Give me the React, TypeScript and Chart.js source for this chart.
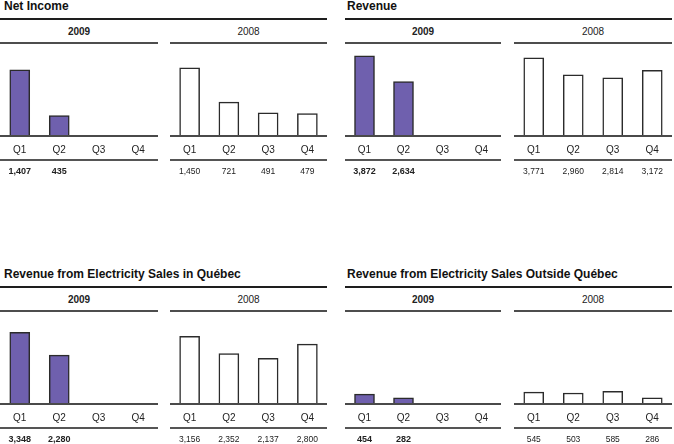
import React, { useEffect, useRef } from 'react';
import { Chart, registerables } from 'chart.js';

Chart.register(...registerables);

const quarters = ['Q1', 'Q2', 'Q3', 'Q4'];

const netIncome2009 = [1407, 435, null, null];
const netIncome2008 = [1450, 721, 491, 479];
const revenue2009 = [3872, 2634, null, null];
const revenue2008 = [3771, 2960, 2814, 3172];
const quebec2009 = [3348, 2280, null, null];
const quebec2008 = [3156, 2352, 2137, 2800];
const outside2009 = [454, 282, null, null];
const outside2008 = [545, 503, 585, 286];

const titles = [
  'Net Income',
  'Revenue',
  'Revenue from Electricity Sales in Québec',
  'Revenue from Electricity Sales Outside Québec',
];
const yearLabels = ['2009', '2008'];

const FONT = '"Liberation Sans", Arial, Helvetica, sans-serif';
const CANVAS_H = 134;

type SubProps = {
  left: number;
  top: number;
  width: number;
  values: (number | null)[];
  filled: boolean;
  ymax: number;
};

function SubChart({ left, top, width, values, filled, ymax }: SubProps) {
  const ref = useRef<HTMLCanvasElement | null>(null);
  useEffect(() => {
    const valueLabels = values.map((v) => (v == null ? '' : v.toLocaleString('en-US')));
    const chart = new Chart(ref.current as HTMLCanvasElement, {
      type: 'bar',
      data: {
        labels: quarters,
        datasets: [
          {
            data: values as any,
            backgroundColor: filled ? '#6f60ae' : '#ffffff',
            borderColor: '#2b2b2b',
            borderWidth: 1.5,
            borderSkipped: 'bottom',
            barThickness: 20,
          },
        ],
      },
      options: {
        animation: false,
        responsive: false,
        devicePixelRatio: 1,
        events: [],
        layout: { padding: 0 },
        plugins: { legend: { display: false }, tooltip: { enabled: false } },
        scales: {
          y: { display: false, min: 0, max: ymax },
          x: {
            position: 'bottom',
            weight: 0,
            grid: { display: false, drawTicks: false },
            border: { display: true, color: '#4a4a4a', width: 2, z: 1 },
            ticks: {
              font: { family: FONT, size: 10 },
              color: '#222',
              padding: 8,
              maxRotation: 0,
              autoSkip: false,
            },
            afterFit: (s: any) => {
              s.height = 24;
            },
          },
          x2: {
            type: 'category',
            labels: valueLabels,
            offset: true,
            position: 'bottom',
            weight: 1,
            grid: { display: false, drawTicks: false },
            border: { display: true, color: '#555', width: 2 },
            ticks: {
              font: { family: FONT, size: filled ? 9 : 8.5, weight: filled ? 'bold' : 'normal' },
              color: '#222',
              padding: 6.5,
              maxRotation: 0,
              autoSkip: false,
            },
            afterFit: (s: any) => {
              s.height = CANVAS_H - 94 - 24;
            },
          },
        } as any,
      },
    });
    return () => chart.destroy();
  }, []);
  return (
    <canvas
      ref={ref}
      width={width}
      height={CANVAS_H}
      style={{ position: 'absolute', left, top, width, height: CANVAS_H }}
    />
  );
}

type PanelProps = {
  title: string;
  rowTop: number;
  titleX: number;
  seg09: [number, number];
  seg08: [number, number];
  data09: (number | null)[];
  data08: (number | null)[];
  ymax: number;
};

function Panel({ title, rowTop, titleX, seg09, seg08, data09, data08, ymax }: PanelProps) {
  const lineLeft = seg09[0];
  const lineRight = seg08[1];
  const abs = (o: any) => ({ position: 'absolute' as const, ...o });
  return (
    <>
      <div
        style={abs({
          left: titleX,
          top: rowTop - 1,
          fontFamily: FONT,
          fontWeight: 'bold',
          fontSize: 12,
          lineHeight: '14px',
          color: '#111',
          whiteSpace: 'nowrap',
        })}
      >
        {title}
      </div>
      <div style={abs({ left: lineLeft, top: rowTop + 18, width: lineRight - lineLeft, height: 2, background: '#1e1e1e' })} />
      {[seg09, seg08].map((seg, i) => (
        <React.Fragment key={i}>
          <div
            style={abs({
              left: seg[0],
              top: rowTop + 26,
              width: seg[1] - seg[0],
              textAlign: 'center',
              fontFamily: FONT,
              fontSize: 10,
              lineHeight: '12px',
              fontWeight: i === 0 ? 'bold' : 'normal',
              color: '#222',
            })}
          >
            {yearLabels[i]}
          </div>
          <div style={abs({ left: seg[0], top: rowTop + 42, width: seg[1] - seg[0], height: 2, background: '#4d4d4d' })} />
        </React.Fragment>
      ))}
      <SubChart left={seg09[0]} top={rowTop + 42} width={seg09[1] - seg09[0]} values={data09} filled={true} ymax={ymax} />
      <SubChart left={seg08[0]} top={rowTop + 42} width={seg08[1] - seg08[0]} values={data08} filled={false} ymax={ymax} />
    </>
  );
}

export default function App() {
  return (
    <div
      style={{
        position: 'absolute',
        left: 0,
        top: 0,
        width: 674,
        height: 444,
        overflow: 'hidden',
        background: '#fff',
      }}
    >
      <Panel title={titles[0]} rowTop={0} titleX={4} seg09={[0, 158]} seg08={[170, 327]} data09={netIncome2009} data08={netIncome2008} ymax={2000} />
      <Panel title={titles[1]} rowTop={0} titleX={347} seg09={[345, 501]} seg08={[514, 672]} data09={revenue2009} data08={revenue2008} ymax={4540} />
      <Panel title={titles[2]} rowTop={268} titleX={4} seg09={[0, 158]} seg08={[170, 327]} data09={quebec2009} data08={quebec2008} ymax={4390} />
      <Panel title={titles[3]} rowTop={268} titleX={347} seg09={[345, 501]} seg08={[514, 672]} data09={outside2009} data08={outside2008} ymax={4300} />
    </div>
  );
}
